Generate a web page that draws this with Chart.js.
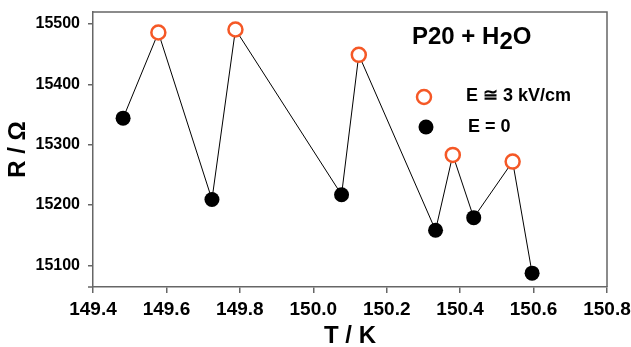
<!DOCTYPE html>
<html>
<head>
<meta charset="utf-8">
<script src="https://cdn.jsdelivr.net/npm/chart.js@4"></script>
<style>
  body { margin: 0; background: #fff; }
  canvas { display: block; }
</style>
</head>
<body>
<canvas id="grafico" width="631" height="347"></canvas>
<script>
// E ≅ 3 kV/cm (open orange circles)
var tempCampo = [149.578, 149.788, 150.124, 150.380, 150.543];
var resCampo  = [15486, 15491, 15449, 15283, 15272];
// E = 0 (filled black circles)
var tempZero = [149.482, 149.724, 150.077, 150.333, 150.437, 150.596];
var resZero  = [15344, 15209, 15217, 15158, 15179, 15087];

var ticksX = [149.4, 149.6, 149.8, 150.0, 150.2, 150.4, 150.6, 150.8];
var ticksY = [15100, 15200, 15300, 15400, 15500];

var laranja = 'rgb(245, 88, 38)';
var cinza = '#666666';
var fonte = '"Liberation Sans", Arial, Helvetica, sans-serif';

function pontos(xs, ys) {
    return xs.map(function (x, i) { return { x: x, y: ys[i] }; });
}

// the thin line joins every point in temperature order
var todos = pontos(tempCampo, resCampo).concat(pontos(tempZero, resZero));
todos.sort(function (a, b) { return a.x - b.x; });

var moldura = {
    id: 'moldura',
    afterDraw: function (chart) {
        var ctx = chart.ctx, a = chart.chartArea;
        ctx.save();
        // top and right edges of the frame
        ctx.strokeStyle = cinza;
        ctx.lineWidth = 1.5;
        ctx.beginPath();
        ctx.moveTo(a.left, a.top);
        ctx.lineTo(a.right, a.top);
        ctx.lineTo(a.right, a.bottom);
        ctx.stroke();
        // small stub of the x axis left of the y axis
        ctx.beginPath();
        ctx.moveTo(a.left - 5, a.bottom);
        ctx.lineTo(a.left, a.bottom);
        ctx.stroke();

        // title P20 + H2O
        ctx.fillStyle = '#000';
        ctx.textBaseline = 'middle';
        ctx.textAlign = 'left';
        ctx.font = 'bold 24px ' + fonte;
        var x = 412, y = 37;
        ctx.fillText('P20 + H', x, y);
        x += ctx.measureText('P20 + H').width;
        ctx.fillText('2', x, y + 5);
        x += ctx.measureText('2').width;
        ctx.fillText('O', x, y);

        // legend
        ctx.beginPath();
        ctx.arc(424, 97, 7, 0, Math.PI * 2);
        ctx.fillStyle = '#fff';
        ctx.fill();
        ctx.lineWidth = 2.5;
        ctx.strokeStyle = laranja;
        ctx.stroke();
        ctx.beginPath();
        ctx.arc(426, 127, 7.5, 0, Math.PI * 2);
        ctx.fillStyle = '#000';
        ctx.fill();

        ctx.font = 'bold 18px ' + fonte;
        ctx.fillText('E \u2245 3 kV/cm', 466, 96);
        ctx.fillText('E = 0', 468, 127);
        ctx.restore();
    }
};

var ctx = document.getElementById('grafico').getContext('2d');
var chart = new Chart(ctx, {
    type: 'scatter',
    data: {
        datasets: [{
            label: 'E ≅ 3 kV/cm',
            data: pontos(tempCampo, resCampo),
            pointRadius: 7,
            pointBackgroundColor: '#fff',
            pointBorderColor: laranja,
            pointBorderWidth: 2.5,
            order: 1
        }, {
            label: 'E = 0',
            data: pontos(tempZero, resZero),
            pointRadius: 7.5,
            pointBackgroundColor: '#000',
            pointBorderColor: '#000',
            pointBorderWidth: 0,
            order: 1
        }, {
            label: 'linha',
            data: todos,
            showLine: true,
            borderColor: '#000',
            borderWidth: 1,
            pointRadius: 0,
            order: 2
        }]
    },
    plugins: [moldura],
    options: {
        responsive: false,
        animation: false,
        layout: { padding: { top: 12, right: 24, left: 0, bottom: 0 } },
        plugins: {
            legend: { display: false },
            tooltip: { enabled: false }
        },
        scales: {
            x: {
                type: 'linear',
                min: 149.4,
                max: 150.8,
                afterBuildTicks: function (s) { s.ticks = ticksX.map(function (v) { return { value: v }; }); },
                afterFit: function (s) { s.height = 60; s.paddingLeft = 0; s.paddingRight = 0; },
                grid: { drawOnChartArea: false, drawTicks: true, tickLength: 6, color: cinza, lineWidth: 1.5 },
                border: { display: true, color: cinza, width: 1.5 },
                ticks: {
                    color: '#000',
                    padding: 5,
                    maxRotation: 0,
                    font: { family: fonte, size: 19, weight: 'bold' },
                    callback: function (v) { return Number(v).toFixed(1); }
                },
                title: {
                    display: true,
                    text: 'T / K',
                    color: '#000',
                    padding: { top: 0, bottom: -4 },
                    font: { family: fonte, size: 24, weight: 'bold' }
                }
            },
            y: {
                type: 'linear',
                min: 15064,
                max: 15520,
                afterBuildTicks: function (s) { s.ticks = ticksY.map(function (v) { return { value: v }; }); },
                afterFit: function (s) { s.width = 93; s.paddingTop = 0; s.paddingBottom = 0; },
                grid: { drawOnChartArea: false, drawTicks: true, tickLength: 5, color: cinza, lineWidth: 1.5 },
                border: { display: true, color: cinza, width: 1.5 },
                ticks: {
                    color: '#000',
                    padding: 8,
                    font: { family: fonte, size: 16, weight: 'bold' },
                    callback: function (v) { return String(v); }
                },
                title: {
                    display: true,
                    text: 'R / Ω',
                    color: '#000',
                    padding: { top: 4, bottom: 0 },
                    font: { family: fonte, size: 24, weight: 'bold' }
                }
            }
        }
    }
});
</script>
</body>
</html>
